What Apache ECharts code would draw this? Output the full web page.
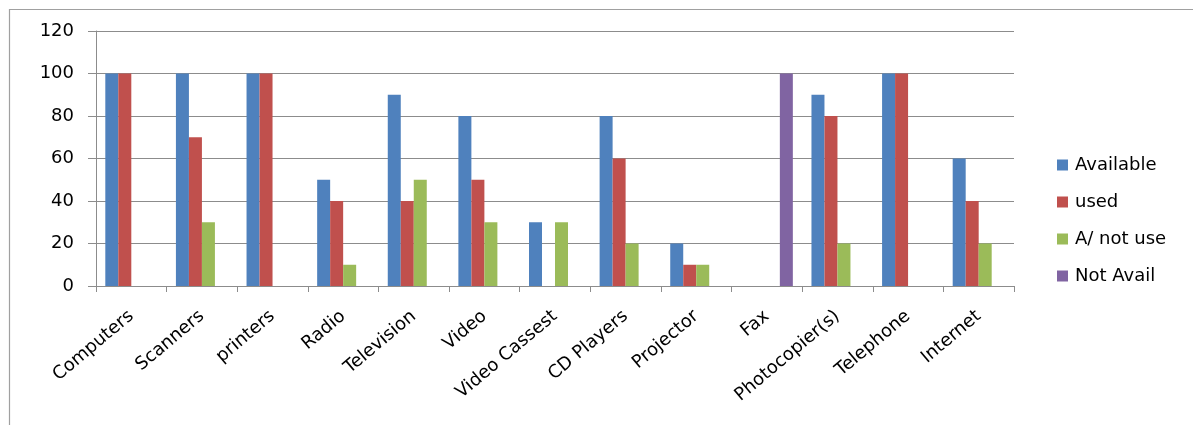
<!DOCTYPE html>
<html>
<head>
<meta charset="utf-8">
<script src="https://cdn.jsdelivr.net/npm/echarts@6/dist/echarts.min.js"></script>
<style>
html,body{margin:0;padding:0;background:#fff;}
#chart{width:1193px;height:425px;}
</style>
</head>
<body>
<div id="chart"></div>
<script>
const categories = ['Computers','Scanners','printers','Radio','Television','Video','Video Cassest','CD Players','Projector','Fax','Photocopier(s)','Telephone','Internet'];
const available = [100,100,100,50,90,80,30,80,20,0,90,100,60];
const used      = [100,70,100,40,40,50,0,60,10,0,80,100,40];
const notUse    = [0,30,0,10,50,30,30,20,10,0,20,0,20];
const notAvail  = [0,0,0,0,0,0,0,0,0,100,0,0,0];
const yTicks = [0,20,40,60,80,100,120];

const FONT = 'DejaVu Sans';
const chart = echarts.init(document.getElementById('chart'), null, {renderer:'canvas'});
const mk = (name, data, color) => ({name, type:'bar', data, barWidth:13, barGap:'0%', itemStyle:{color}});
chart.setOption({
  animation:false,
  textStyle:{fontFamily:FONT},
  graphic:[{type:'rect', silent:true, z:-1, shape:{x:9.5,y:9.5,width:1400,height:600}, style:{fill:'none', stroke:'#a0a0a0', lineWidth:1.2}}],
  grid:{left:96, top:31, right:179, bottom:139},
  legend:{
    orient:'vertical', left:1052, top:150, itemWidth:11, itemHeight:11, itemGap:17,
    icon:'rect',
    textStyle:{fontFamily:FONT, fontSize:18, color:'#000', lineHeight:20, padding:[0,0,0,2]},
    data:['Available','used','A/ not use','Not Avail']
  },
  xAxis:{
    type:'category', data:categories,
    axisLine:{lineStyle:{color:'#8c8c8c', width:1}},
    axisTick:{show:true, alignWithLabel:false, length:6, lineStyle:{color:'#8c8c8c'}},
    axisLabel:{rotate:40, interval:0, margin:28, fontFamily:FONT, fontSize:18, color:'#000'}
  },
  yAxis:{
    type:'value', min:yTicks[0], max:yTicks[yTicks.length-1], interval:20,
    axisLine:{show:true, lineStyle:{color:'#8c8c8c'}},
    axisTick:{show:true, length:8, lineStyle:{color:'#8c8c8c'}},
    splitLine:{lineStyle:{color:'#8c8c8c', width:1}},
    axisLabel:{margin:22, fontFamily:FONT, fontSize:18, color:'#000'}
  },
  series:[
    mk('Available', available, '#4F81BD'),
    mk('used', used, '#C0504D'),
    mk('A/ not use', notUse, '#9BBB59'),
    mk('Not Avail', notAvail, '#8064A2')
  ]
});
</script>
</body>
</html>
